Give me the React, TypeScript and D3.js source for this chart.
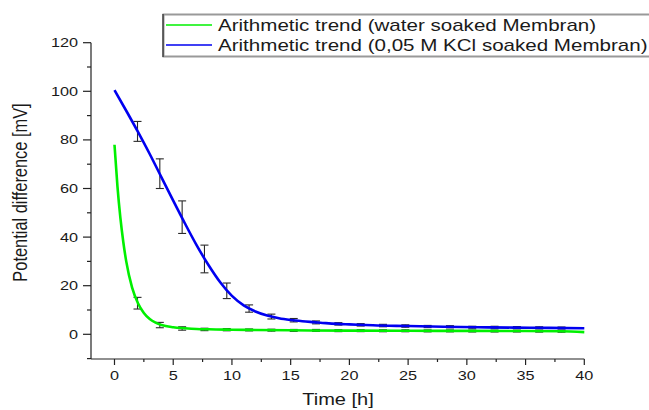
import React from "react";
import * as d3 from "d3";

// ---- data ----
const waterTrendT = [0, 0.25, 0.5, 0.75, 1, 1.5, 2, 2.5, 3, 3.5, 4, 5, 6, 7, 8, 10, 12, 15, 20, 25, 30, 35, 38, 40];
const waterTrendV = [78, 61, 48, 38, 30, 19.2, 12.8, 8.8, 6.3, 4.8, 3.8, 2.9, 2.5, 2.2, 2.05, 1.9, 1.8, 1.65, 1.5, 1.45, 1.4, 1.35, 1.25, 0.9];

const kclTrendT = [0, 1, 2, 3, 4, 5, 6, 7, 8, 9, 10, 11, 12, 13, 14, 15, 16, 17, 18, 19, 20, 22, 25, 28, 31, 34, 37, 40];
const kclTrendV = [100.5, 92, 83.3, 74.2, 64.6, 55, 45.6, 36.6, 28.5, 21.4, 15.8, 11.9, 9.4, 7.7, 6.6, 5.9, 5.4, 5.0, 4.6, 4.3, 4.1, 3.7, 3.4, 3.1, 2.9, 2.75, 2.65, 2.5];

const errT = [1.96, 3.86, 5.76, 7.66, 9.56, 11.46, 13.36, 15.26, 17.16, 19.06, 20.96, 22.86, 24.76, 26.66, 28.56, 30.46, 32.36, 34.26, 36.16, 38.06];
const waterMean = [12.8, 3.8, 2.4, 2.0, 1.9, 1.8, 1.7, 1.6, 1.6, 1.5, 1.5, 1.45, 1.45, 1.4, 1.4, 1.35, 1.35, 1.35, 1.3, 1.25];
const waterErr = [2.4, 1.1, 0.7, 0.5, 0.45, 0.4, 0.4, 0.4, 0.4, 0.4, 0.4, 0.4, 0.4, 0.4, 0.4, 0.4, 0.4, 0.4, 0.4, 0.4];
const kclMean = [83.5, 66.1, 48.2, 31.0, 17.9, 10.6, 7.3, 5.8, 4.9, 4.3, 3.9, 3.6, 3.4, 3.2, 3.1, 2.9, 2.9, 2.8, 2.7, 2.6];
const kclErr = [4.1, 6.1, 6.7, 5.7, 3.2, 1.5, 1.0, 0.7, 0.6, 0.5, 0.5, 0.5, 0.5, 0.45, 0.45, 0.4, 0.4, 0.4, 0.4, 0.4];

const xTicks = [0, 5, 10, 15, 20, 25, 30, 35, 40];
const xMinor = [2.5, 7.5, 12.5, 17.5, 22.5, 27.5, 32.5, 37.5];
const yTicks = [0, 20, 40, 60, 80, 100, 120];
const yMinor = [-10, 10, 30, 50, 70, 90, 110];

const legendLabels = [
  "Arithmetic trend (water soaked Membran)",
  "Arithmetic trend (0,05 M KCl soaked Membran)",
];
const colors = ["#00f000", "#0000f0"];

const W = 649;
const H = 410;
const SX = 1.27; // horizontal stretch of the glyphs
const FONT = "'Liberation Sans', Arial, sans-serif";

export default function App() {
  const x = d3.scaleLinear().domain([-2, 40]).range([91, 584.3]);
  const y = d3.scaleLinear().domain([0, 120]).range([334.3, 42.7]);
  const yBottom = 359;

  const line = d3
    .line<[number, number]>()
    .x((d) => x(d[0]))
    .y((d) => y(d[1]))
    .curve(d3.curveMonotoneX);

  const waterPts = waterTrendT.map((t, i) => [t, waterTrendV[i]] as [number, number]);
  const kclPts = kclTrendT.map((t, i) => [t, kclTrendV[i]] as [number, number]);

  const bars = (means: number[], errs: number[], key: string) =>
    errT.map((t, i) => {
      const cx = x(t);
      const y1 = y(means[i] + errs[i]);
      const y2 = y(means[i] - errs[i]);
      return (
        <g key={key + i} stroke="#2a2a2a" strokeWidth={1.1}>
          <line x1={cx} x2={cx} y1={y1} y2={y2} />
          <line x1={cx - 4} x2={cx + 4} y1={y1} y2={y1} />
          <line x1={cx - 4} x2={cx + 4} y1={y2} y2={y2} />
        </g>
      );
    });

  const stretchedText = (
    tx: number,
    ty: number,
    content: string,
    size: number,
    anchor: string,
    key?: string,
    rotate?: boolean
  ) => (
    <text
      key={key}
      transform={`translate(${tx},${ty}) scale(${SX},1)${rotate ? " rotate(-90)" : ""}`}
      fontSize={size}
      fontFamily={FONT}
      textAnchor={anchor}
      fill="#1a1a1a"
    >
      {content}
    </text>
  );

  return (
    <svg
      width={W}
      height={H}
      style={{ position: "fixed", left: 0, top: 0, background: "#fff" }}
    >
      <rect x={0} y={0} width={W} height={H} fill="#fff" />
      {/* axes */}
      <g stroke="#222" strokeWidth={1.2} fill="none">
        <line x1={91} x2={91} y1={y(120)} y2={yBottom} />
        <line x1={91} x2={x(40)} y1={yBottom} y2={yBottom} />
        {xTicks.map((t) => (
          <line key={"xt" + t} x1={x(t)} x2={x(t)} y1={yBottom} y2={yBottom + 6} />
        ))}
        {xMinor.map((t) => (
          <line key={"xm" + t} x1={x(t)} x2={x(t)} y1={yBottom} y2={yBottom + 3} />
        ))}
        {yTicks.map((t) => (
          <line key={"yt" + t} x1={91 - 8} x2={91} y1={y(t)} y2={y(t)} />
        ))}
        {yMinor.map((t) => (
          <line key={"ym" + t} x1={91 - 4} x2={91} y1={y(t)} y2={y(t)} />
        ))}
      </g>
      {xTicks.map((t) => stretchedText(x(t), 380, String(t), 12.8, "middle", "xl" + t))}
      {yTicks.map((t) => stretchedText(78, y(t) + 4.5, String(t), 12.8, "end", "yl" + t))}
      {stretchedText(338, 405, "Time [h]", 15.8, "middle", "xlab")}
      {stretchedText(27, 192.5, "Potential difference [mV]", 16.4, "middle", "ylab", true)}

      {/* error bars */}
      {bars(kclMean, kclErr, "k")}
      {bars(waterMean, waterErr, "w")}

      {/* trend lines */}
      <path d={line(waterPts) || ""} fill="none" stroke={colors[0]} strokeWidth={2.6} />
      <path d={line(kclPts) || ""} fill="none" stroke={colors[1]} strokeWidth={2.6} />

      {/* legend */}
      <rect x={163.5} y={14.5} width={W} height={42} fill="#fff" stroke="#999" strokeWidth={2} />
      <line x1={163} x2={163} y1={14} y2={57} stroke="#333" strokeWidth={1.3} />
      {legendLabels.map((lab, i) => (
        <g key={"lg" + i}>
          <line x1={166} x2={212} y1={25 + i * 20} y2={25 + i * 20} stroke={colors[i]} strokeWidth={1.6} />
          {stretchedText(218, 31 + i * 20, lab, 16.2, "start", "lt" + i)}
        </g>
      ))}
    </svg>
  );
}
